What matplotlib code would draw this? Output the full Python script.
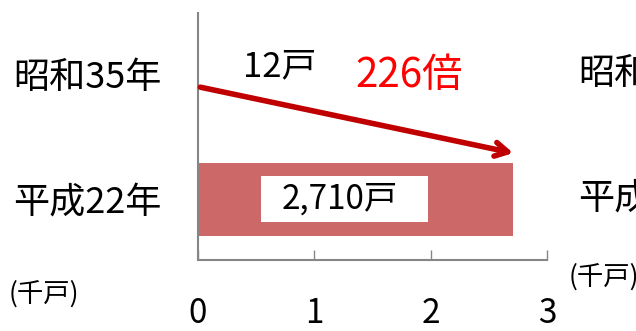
import matplotlib
matplotlib.use("Agg")
import matplotlib.pyplot as plt
from matplotlib.patches import Rectangle

plt.rcParams['font.family'] = ['Noto Sans CJK JP', 'DejaVu Sans']

# データ (単位: 千戸)
categories = ['平成22年', '昭和35年']
values = [2.710, 0.012]
value_labels = ['2,710戸', '12戸']
xticks = [0, 1, 2, 3]
ratio_label = '226倍'

bar_color = '#CD6868'
arrow_color = '#C00000'
spine_color = '#868686'

fig = plt.figure(figsize=(6.36, 3.31), dpi=100)
ax = fig.add_axes([198 / 636, 1 - 260 / 331, 349 / 636, 247 / 331])

ypos = [0, 1]
ax.barh(ypos, values, height=0.575, color=bar_color)
ax.set_xlim(0, 3)
ax.set_ylim(-0.482, 1.486)

ax.set_xticks(xticks)
ax.set_xticklabels([str(t) for t in xticks], fontsize=24)
ax.set_yticks(ypos)
ax.set_yticklabels(categories, fontsize=26)
ax.tick_params(axis='x', direction='in', length=7, width=1, color=spine_color, pad=26)
ax.tick_params(axis='y', length=0, pad=26)

for s in ['top', 'right']:
    ax.spines[s].set_visible(False)
for s in ['left', 'bottom']:
    ax.spines[s].set_color(spine_color)
    ax.spines[s].set_linewidth(1.5)

# 値ラベル
ax.text(0.705, 1.06, value_labels[1], fontsize=25, ha='center', va='center')
ax.add_patch(Rectangle((0.542, -0.183), 1.436, 0.367, fc='white', ec='none'))
ax.text(1.22, 0.0, value_labels[0], fontsize=24, ha='center', va='center')

# 矢印
ax.annotate('', xy=(values[0], 0.37), xytext=(0.02, 0.895),
            arrowprops=dict(arrowstyle='->,head_length=0.9,head_width=0.5',
                            lw=4, color=arrow_color, shrinkA=0, shrinkB=0))
ax.text(1.815, 0.99, ratio_label, fontsize=29, color='#FF0000', ha='center', va='center')

# 単位
fig.text(9 / 636, 1 - 294 / 331, '(千戸)', fontsize=19, va='center')
fig.text(569 / 636, 1 - 277 / 331, '(千戸)', fontsize=19, va='center')

# 隣のグラフの一部
fig.text(578 / 636, 1 - 74 / 331, categories[1][:2], fontsize=26, va='center')
fig.text(578 / 636, 1 - 199 / 331, categories[0][:2], fontsize=26, va='center')

fig.savefig('out.png', dpi=100)
